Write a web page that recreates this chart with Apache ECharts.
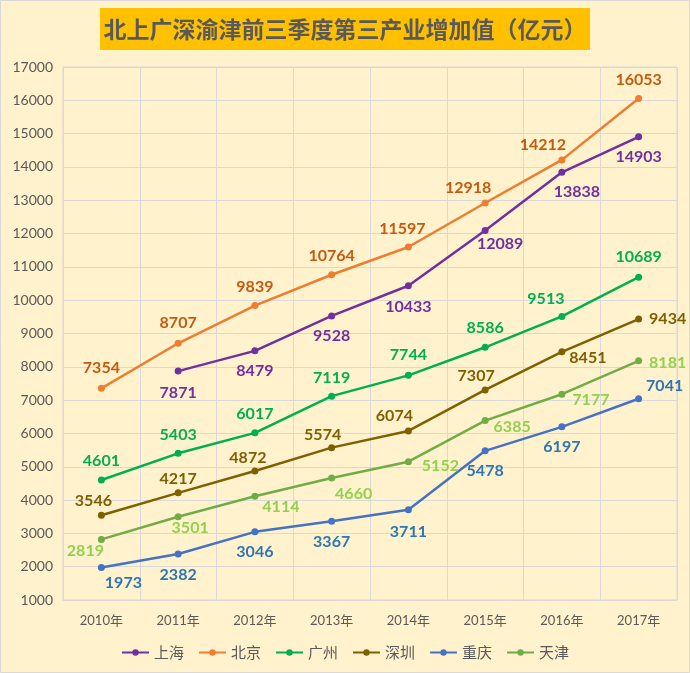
<!DOCTYPE html>
<html><head><meta charset="utf-8">
<script src="https://cdn.jsdelivr.net/npm/echarts@6/dist/echarts.min.js"></script>
<style>html,body{margin:0;padding:0;background:#FFF2CC;}#c{width:690px;height:673px;}</style>
</head><body><div id="c"></div>
<script>
var categories = ['2010年','2011年','2012年','2013年','2014年','2015年','2016年','2017年'];
var seriesNames = ['上海','北京','广州','深圳','重庆','天津'];
var shanghai = [null, 7871, 8479, 9528, 10433, 12089, 13838, 14903];
var beijing  = [7354, 8707, 9839, 10764, 11597, 12918, 14212, 16053];
var guangzhou = [4601, 5403, 6017, 7119, 7744, 8586, 9513, 10689];
var shenzhen = [3546, 4217, 4872, 5574, 6074, 7307, 8451, 9434];
var chongqing = [1973, 2382, 3046, 3367, 3711, 5478, 6197, 7041];
var tianjin = [2819, 3501, 4114, 4660, 5152, 6385, 7177, 8181];
var yTicks = {min: 1000, max: 17000, interval: 1000};

// styling (not data)
var lineColors = ['#7030A0','#ED7D31','#00B050','#7F6000','#4472C4','#70AD47'];
var labelColors = ['#7030A0','#C55A11','#00B050','#7F6000','#2E75B6','#92D050'];
var offsets = [
  [[0,0],[0,22],[0,20],[0,20],[0,21],[15,13],[15,20],[0,20]],
  [[0,-20],[0,-20],[0,-19],[0,-19],[-6,-18],[-17,-15],[-19,-15],[0,-19]],
  [[0,-19],[0,-18],[0,-19],[0,-18],[0,-20],[0,-19],[-16,-18],[0,-20]],
  [[-8,-14],[0,-14],[-7,-13],[-9,-13],[-14,-15],[-9,-14],[26,6],[29,0]],
  [[22,15],[0,21],[0,20],[0,21],[0,22],[0,20],[0,20],[26,-13]],
  [[-16,11],[12,11],[26,11],[22,16],[32,4],[27,6],[29,6],[29,2]]
];
var values = [shanghai, beijing, guangzhou, shenzhen, chongqing, tianjin];
var labelFont = 'Lato, "Noto Sans", sans-serif';

var series = values.map(function(arr, si){
  return {
    name: seriesNames[si],
    type: 'line',
    symbol: 'circle',
    symbolSize: 7,
    connectNulls: false,
    lineStyle: {width: 2.5, color: lineColors[si]},
    itemStyle: {color: lineColors[si]},
    data: arr.map(function(v, i){
      return {
        value: v,
        label: {
          show: v != null,
          position: 'inside',
          offset: offsets[si][i],
          color: labelColors[si],
          fontWeight: 'bold',
          fontSize: 16,
          fontFamily: labelFont,
          formatter: '{c}'
        }
      };
    }),
    emphasis: {disabled: true},
    animation: false
  };
});

var chart = echarts.init(document.getElementById('c'), null, {renderer: 'canvas'});
chart.setOption({
  backgroundColor: '#FFF2CC',
  animation: false,
  graphic: [
    {type: 'rect', shape: {x: 100, y: 8, width: 490, height: 42}, style: {fill: '#FFC000'}, z: 10},
    {type: 'text', x: 345, y: 29, style: {text: '北上广深渝津前三季度第三产业增加值（亿元）', fill: '#595959', font: 'bold 23px "Noto Sans CJK SC", sans-serif', textAlign: 'center', textVerticalAlign: 'middle'}, z: 11},
    {type: 'rect', shape: {x: 0.5, y: 0.5, width: 689, height: 672}, style: {fill: 'none', stroke: '#D9D9D9', lineWidth: 1}, z: 0}
  ],
  grid: {left: 63, right: 13, top: 67, bottom: 73, containLabel: false,
         show: true, borderColor: '#D9D9D9', borderWidth: 1},
  legend: {
    bottom: 8, left: 'center',
    itemWidth: 27, itemHeight: 8, itemGap: 14,
    textStyle: {color: '#595959', fontSize: 15, fontFamily: '"Noto Sans CJK SC", sans-serif'},
    data: seriesNames
  },
  xAxis: {
    type: 'category', data: categories, boundaryGap: true,
    axisLine: {show: true, lineStyle: {color: '#D9D9D9'}},
    axisTick: {show: false},
    splitLine: {show: true, lineStyle: {color: '#D9D9D9'}},
    axisLabel: {color: '#595959', fontSize: 13, margin: 14, fontFamily: 'Lato, "Noto Sans CJK SC", sans-serif'}
  },
  yAxis: {
    type: 'value', min: yTicks.min, max: yTicks.max, interval: yTicks.interval,
    axisLine: {show: true, lineStyle: {color: '#D9D9D9'}},
    axisTick: {show: false},
    splitLine: {show: true, lineStyle: {color: '#D9D9D9'}},
    axisLabel: {color: '#595959', fontSize: 14, margin: 10, fontFamily: 'Lato, sans-serif',
                formatter: function(v){ return String(v); }}
  },
  series: series
});
</script>
</body></html>
